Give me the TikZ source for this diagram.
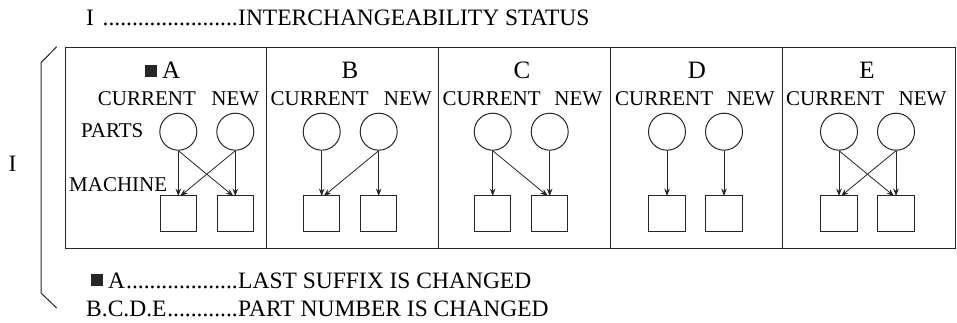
\documentclass[tikz,border=0pt]{standalone}
\usepackage{fontspec}
\setmainfont{Liberation Serif}
\usetikzlibrary{arrows.meta}
\begin{document}
\begin{tikzpicture}[x=1pt,y=-1pt,
  big/.style={font=\fontsize{23.5}{26}\selectfont, inner sep=0pt, text=black},
  letter/.style={font=\fontsize{25}{28}\selectfont, inner sep=0pt, text=black},
  mid/.style={font=\fontsize{21}{24}\selectfont, inner sep=0pt, text=black},
  part/.style={circle, draw=black!85, line width=1pt, minimum size=37pt, inner sep=0pt},
  mach/.style={rectangle, draw=black!85, line width=1pt, minimum size=36.5pt, inner sep=0pt},
  panel/.style={draw=black!85, line width=1.2pt},
  conn/.style={draw=black!85, line width=0.8pt, -{Stealth[length=7.5pt,width=5.5pt]}},
  blk/.style={fill=black!85, draw=none, minimum size=12pt, inner sep=0pt}]
\useasboundingbox (0,0) rectangle (957,323);

% title
\node[big, anchor=base west] (ttlI) at (86,26) {I};
\node[big, anchor=base east] (ttldots) at (238,26) {.......................};
\node[big, anchor=base west] (ttl) at (238,26) {INTERCHANGEABILITY STATUS};

% panels
\node[panel, rectangle, minimum width=201pt, minimum height=201pt, anchor=north west, inner sep=0pt] (pA) at (65,47) {};
\node[panel, rectangle, minimum width=172pt, minimum height=201pt, anchor=north west, inner sep=0pt] (pB) at (266,47) {};
\node[panel, rectangle, minimum width=172pt, minimum height=201pt, anchor=north west, inner sep=0pt] (pC) at (438,47) {};
\node[panel, rectangle, minimum width=172pt, minimum height=201pt, anchor=north west, inner sep=0pt] (pD) at (610,47) {};
\node[panel, rectangle, minimum width=173pt, minimum height=201pt, anchor=north west, inner sep=0pt] (pE) at (782,47) {};

% panel letters
\node[blk] (sqA) at (151,71) {};
\node[letter, anchor=base west] (lA) at (162,79) {A};
\node[letter, anchor=base] (lB) at (350,79) {B};
\node[letter, anchor=base] (lC) at (522,79) {C};
\node[letter, anchor=base] (lD) at (697,79) {D};
\node[letter, anchor=base] (lE) at (867,79) {E};

% CURRENT / NEW
\node[mid, anchor=base west] (cA) at (97.7,106) {CURRENT};
\node[mid, anchor=base east] (nA) at (259.5,106) {NEW};
\node[mid, anchor=base west] (cB) at (270.5,106) {CURRENT};
\node[mid, anchor=base east] (nB) at (432,106) {NEW};
\node[mid, anchor=base west] (cC) at (442.5,106) {CURRENT};
\node[mid, anchor=base east] (nC) at (602.5,106) {NEW};
\node[mid, anchor=base west] (cD) at (615,106) {CURRENT};
\node[mid, anchor=base east] (nD) at (775,106) {NEW};
\node[mid, anchor=base west] (cE) at (786,106) {CURRENT};
\node[mid, anchor=base east] (nE) at (946.7,106) {NEW};

\node[mid, anchor=base west] (parts) at (81,138) {PARTS};
\node[mid, anchor=base west] (machine) at (69,191) {MACHINE};

% circles and squares
\foreach \p/\xc/\xn in {A/178.3/235.3, B/321.7/378.7, C/492.7/549.7, D/667/724, E/839/896} {
  \node[part] (\p c) at (\xc,131.7) {};
  \node[part] (\p n) at (\xn,131.7) {};
  \node[mach] (\p mc) at (\xc,213.3) {};
  \node[mach] (\p mn) at (\xn,213.3) {};
}

% connectors
\foreach \p in {A,B,C,D,E} {
  \draw[conn] (\p c.south) -- ([yshift=-1.5pt]\p mc.north);
  \draw[conn] (\p n.south) -- ([yshift=-1.5pt]\p mn.north);
}
\foreach \p in {A,E} {
  \draw[conn] (\p c.south) -- ([xshift=-2pt,yshift=-1.5pt]\p mn.north);
  \draw[conn] (\p n.south) -- ([xshift=2pt,yshift=-1.5pt]\p mc.north);
}
\draw[conn] (Bn.south) -- ([xshift=2pt,yshift=-1.5pt]Bmc.north);
\draw[conn] (Cc.south) -- ([xshift=-2pt,yshift=-1.5pt]Cmn.north);

% bracket
\coordinate (bt) at (56.7,46.7);
\coordinate (bb) at (56.7,308);
\draw[draw=black!85, line width=1pt] (bt) -- (41,62.7) -- (41,293) -- (bb);
\node[big, anchor=center] (lI) at (12.5,164) {I};

% legend
\node[blk] (sqL) at (97,280) {};
\node[big, anchor=base west] (legA) at (108,288) {A};
\node[big, anchor=base east] (legAd) at (238,288) {...................};
\node[big, anchor=base west] (legAt) at (238,288) {LAST SUFFIX IS CHANGED};
\node[big, anchor=base west] (legB) at (86,316) {B.C.D.E};
\node[big, anchor=base east] (legBd) at (238,316) {............};
\node[big, anchor=base west] (legBt) at (238,316) {PART NUMBER IS CHANGED};
\end{tikzpicture}
\end{document}
